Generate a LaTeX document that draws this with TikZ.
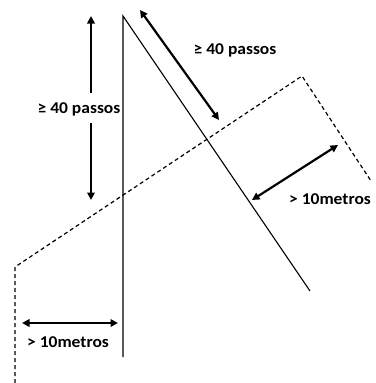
\documentclass[tikz,border=0pt]{standalone}
\usepackage{fontspec}
\setmainfont[FakeStretch=1.06]{Carlito}
\usepackage{tikz}
\usetikzlibrary{arrows.meta}
\tikzset{
  edge/.style={line width=1.1pt,black},
  zone/.style={line width=1.2pt,black,dash pattern=on 4pt off 3pt},
  span/.style={line width=2.2pt,{Triangle[length=7.5pt,width=7.5pt]}-{Triangle[length=7.5pt,width=7.5pt]}},
  lab/.style={font=\fontsize{16.5}{19}\selectfont\bfseries,inner sep=1pt}
}

\begin{document}
\begin{tikzpicture}[x=1pt,y=-1pt]
    \useasboundingbox (0,0) rectangle (375,383);
    % road edges
    \coordinate (apex) at (123,16);
    \coordinate (vend) at (123,357);
    \coordinate (dend) at (310,291);
    \draw[edge] (vend) -- (apex) -- (dend);
    % dashed zone
    \coordinate (z1) at (15,383);
    \coordinate (z2) at (15,267);
    \coordinate (z3) at (302,76);
    \coordinate (z4) at (371,181);
    \draw[zone] (z1) -- (z2) -- (z3) -- (z4);
    % distances
    \node[lab] (vlab) at (79,109) {≥ 40 passos};
    \coordinate (vtop) at (91,16);
    \coordinate (vgap1) at (91,93);
    \coordinate (vgap2) at (91,123);
    \coordinate (vbot) at (91,200);
    \draw[span,-{Triangle[length=7.5pt,width=7.5pt]}] (vgap1) -- (vtop);
    \draw[span,-{Triangle[length=7.5pt,width=7.5pt]}] (vgap2) -- (vbot);
    \node[lab] (dlab) at (235,50) {≥ 40 passos};
    \coordinate (dtop) at (140,10);
    \coordinate (dbot) at (219,120);
    \draw[span] (dtop) -- (dbot);
    \node[lab] (rlab) at (330,199) {> 10metros};
    \coordinate (rin) at (252,200);
    \coordinate (rout) at (338,145);
    \draw[span] (rin) -- (rout);
    \node[lab] (blab) at (68,342) {> 10metros};
    \coordinate (bl) at (22,323);
    \coordinate (br) at (118,323);
    \draw[span] (bl) -- (br);
\end{tikzpicture}
\end{document}
